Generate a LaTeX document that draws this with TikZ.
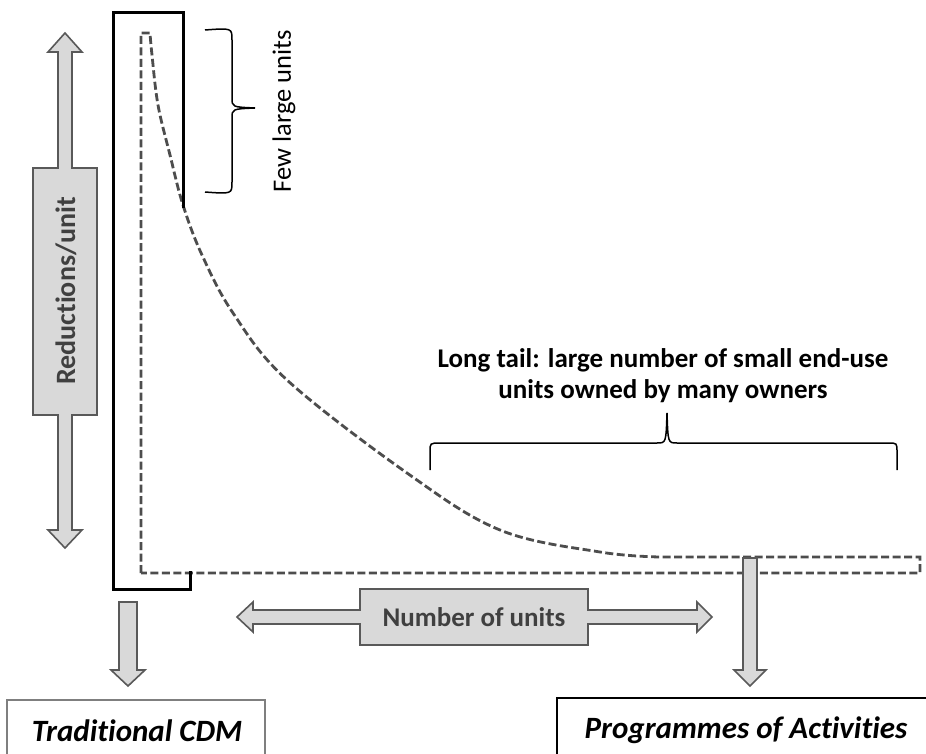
\documentclass[tikz,border=0pt]{standalone}
\usepackage{fontspec}
\setmainfont[Ligatures=NoCommon]{Carlito}
\begin{document}
\begin{tikzpicture}[x=1pt,y=-1pt,
  blockarrow/.style={fill=arrowfill,draw=arrowline,line width=1.6pt,line join=miter},
  dashcurve/.style={draw=dashgrey,line width=2.8pt,dash pattern=on 8pt off 3.5pt},
  thickblack/.style={draw=black,line width=3pt},
  bracestyle/.style={draw=black,line width=1.5pt},
  lbl/.style={inner sep=0pt,font=\fontsize{24}{30}\selectfont}]
\definecolor{arrowfill}{HTML}{D9D9D9}
\definecolor{arrowline}{HTML}{595959}
\definecolor{dashgrey}{HTML}{4D4D4D}
\definecolor{greytext}{HTML}{404040}
\definecolor{cdmline}{HTML}{7F7F7F}
\useasboundingbox (0,0) rectangle (926,754);
\clip (0,0) rectangle (926,754);
\fill[white] (0,0) rectangle (926,754);

% dashed long-tail curve region
\draw[dashcurve] (141,573) -- (141,33) --
  plot[smooth,tension=0.6] coordinates {(150,33) (152,55) (158,105) (170,155) (183,205) (202,255) (233,313) (287,380) (407,473) (500,530) (600,552) (660,557)}
  -- (920,557) -- (920,573) -- cycle;

% solid black outline of the few large units
\draw[thickblack] (183,208) -- (183,13) -- (113,13) -- (113,589) -- (190,589) -- (190,571);

% vertical double arrow
\draw[blockarrow] (65,33) -- (82,52) -- (72,52) -- (72,168) -- (97,168) -- (97,415) -- (72,415) -- (72,530) -- (82,530) -- (65,548) -- (48,530) -- (58,530) -- (58,415) -- (33,415) -- (33,168) -- (58,168) -- (58,52) -- (48,52) -- cycle;
\node[lbl,rotate=90,text=greytext,font=\fontsize{28}{30}\selectfont\bfseries] (red) at (66,291) {Reductions/unit};

% horizontal double arrow
\draw[blockarrow] (237,617) -- (253,602) -- (253,610) -- (360,610) -- (360,589) -- (588,589) -- (588,610) -- (697,610) -- (697,602) -- (712,617) -- (697,632) -- (697,624) -- (588,624) -- (588,645) -- (360,645) -- (360,624) -- (253,624) -- (253,632) -- cycle;
\node[lbl,text=greytext,font=\fontsize{27}{30}\selectfont\bfseries] (num) at (474,617) {Number of units};

% down arrows
\draw[blockarrow] (119,602) -- (137,602) -- (137,670) -- (145,670) -- (128,686) -- (111,670) -- (119,670) -- cycle;
\draw[blockarrow] (743,558) -- (757,558) -- (757,670) -- (766,670) -- (750,686) -- (734,670) -- (743,670) -- cycle;

% boxes
\draw[draw=cdmline,line width=2.5pt] (7,760) -- (7,700) -- (265,700) -- (265,760);
\node[lbl,font=\fontsize{31}{30}\selectfont\bfseries\itshape] (cdm) at (137,731) {Traditional CDM};
\draw[draw=black,line width=2pt] (557,760) -- (557,698) -- (935,698);
\node[lbl,font=\fontsize{31}{30}\selectfont\bfseries\itshape] (poa) at (746,730) {Programmes of Activities};

% brace few large units
\draw[bracestyle] (205,30) .. controls (232,28) .. (232,40) -- (232,98) .. controls (232,107) .. (255,108) .. controls (232,109) .. (232,118) -- (232,182) .. controls (232,194) .. (205,192);
\node[lbl,rotate=90,font=\fontsize{26.5}{30}\selectfont] (few) at (284,111) {Few large units};

% brace long tail
\draw[bracestyle] (430,470) -- (430,452) .. controls (430,443) .. (440,443) -- (657,443) .. controls (666,443) .. (667,413) .. controls (668,443) .. (677,443) -- (888,443) .. controls (897,443) .. (897,452) -- (897,470);
\node[lbl,align=center,font=\fontsize{27}{31}\selectfont\bfseries] (tail) at (663,376) {Long tail: large number of small end-use\\units owned by many owners};
\end{tikzpicture}
\end{document}
